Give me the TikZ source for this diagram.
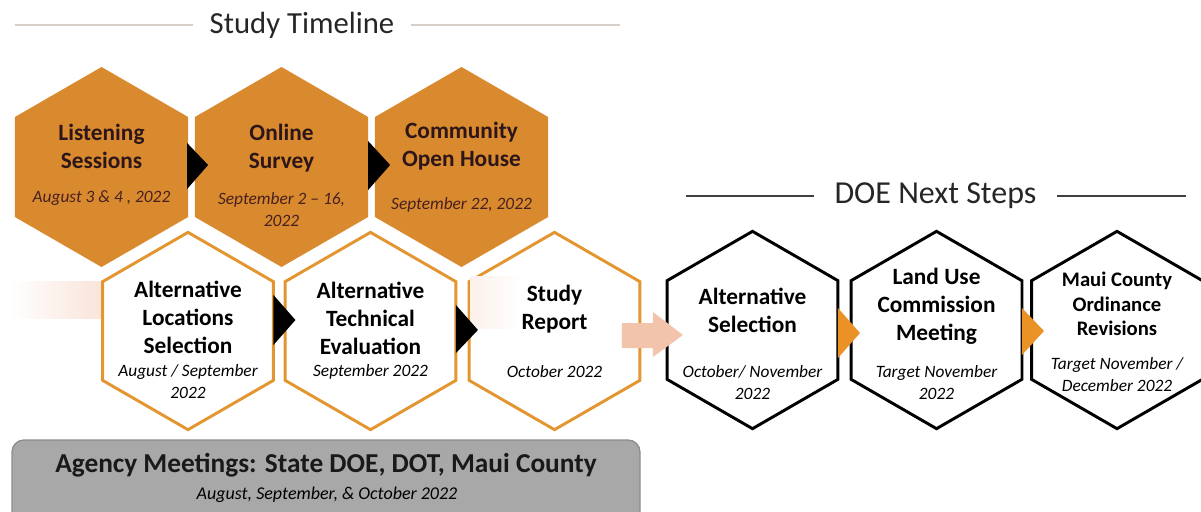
\documentclass[tikz,border=0pt]{standalone}
\usepackage{fontspec}
\setmainfont{Carlito}
\usetikzlibrary{shapes.geometric,calc}

\definecolor{hexorange}{RGB}{217,138,46}
\definecolor{lineorange}{RGB}{227,150,48}
\definecolor{tiporange}{RGB}{234,146,38}
\definecolor{peach}{RGB}{243,196,172}
\definecolor{bargray}{RGB}{168,168,168}
\definecolor{rulegray}{RGB}{216,208,200}
\definecolor{darkbrown}{RGB}{45,22,25}
\definecolor{datebrown}{RGB}{72,32,32}

\tikzset{
  hex/.style={regular polygon, regular polygon sides=6, shape border rotate=30,
    minimum size=150pt, inner sep=0pt, outer sep=0pt},
  hexfill/.style={hex, fill=hexorange},
  hexline/.style={hex, minimum size=148pt, draw=lineorange, line width=2.2pt, fill=white},
  hexblack/.style={hex, minimum size=148pt, draw=black, line width=2.2pt, fill=white},
  ttl/.style={align=center, font=\fontsize{17.5}{21}\selectfont\bfseries},
  dte/.style={align=center, font=\fontsize{13}{16.5}\selectfont\itshape},
  heading/.style={font=\fontsize{23}{26}\selectfont, inner xsep=12pt, text=black!85},
}

\begin{document}
\begin{tikzpicture}[x=0.75pt, y=-0.75pt]
\useasboundingbox (0,0) rectangle (1201,511);

% headings
\node[heading] (st) at (302,25) {Study Timeline};
\coordinate (st-l) at (15,25);
\coordinate (st-r) at (620,25);
\draw[rulegray, line width=1.5pt] (st-l) -- (st.west) (st.east) -- (st-r);

\node[heading, font=\fontsize{24}{27}\selectfont, inner xsep=15pt] (dns) at (935.5,196) {DOE Next Steps};
\coordinate (dns-l) at (686,196);
\coordinate (dns-r) at (1186,196);
\draw[black!75, line width=1.1pt] (dns-l) -- (dns.west) (dns.east) -- (dns-r);

% faded trail
\shade[left color=white, right color=peach!45] (10,281) rectangle (101,318);

% top row
\node[hexfill] (ls)  at (101.5,167) {};
\node[hexfill] (os)  at (281.5,167) {};
\node[hexfill] (coh) at (461.5,167) {};

% bottom row
\node[hexline] (als) at (188,331) {};
\node[hexline] (ate) at (370.5,331) {};
\node[hexline] (sr)  at (554.5,331) {};
\shade[left color=peach!25, right color=white] (470,276) rectangle (520,328);

% next steps
\node[hexblack] (asel) at (752.5,330) {};
\node[hexblack] (luc)  at (936.5,330) {};
\node[hexblack] (mco)  at (1117,330) {};

% step markers
\fill[black] ($(ls.east)+(-1,-24)$) -- ($(ls.east)+(20,-2)$) -- ($(ls.east)+(-1,22)$) -- cycle;
\fill[black] ($(os.east)+(0,-26)$) -- ($(os.east)+(22,-2)$) -- ($(os.east)+(0,23)$) -- cycle;
\fill[black] ($(als.east)+(0,-36)$) -- ($(als.east)+(22,-11)$) -- ($(als.east)+(0,14)$) -- cycle;
\fill[black] ($(ate.east)+(0,-26)$) -- ($(ate.east)+(22,-1)$) -- ($(ate.east)+(0,22)$) -- cycle;
\fill[tiporange] ($(asel.east)+(0,-22)$) -- ($(asel.east)+(22,3)$) -- ($(asel.east)+(0,28)$) -- cycle;
\fill[tiporange] ($(luc.east)+(0,-22)$) -- ($(luc.east)+(22,1)$) -- ($(luc.east)+(0,25)$) -- cycle;

% report to next steps
\fill[peach] ($(sr.east)+(-18,-8)$) -- ++(31,0) -- ++(0,-11) -- ($(sr.east)+(43,4)$)
  -- ($(sr.east)+(13,26)$) -- ++(0,-9) -- ($(sr.east)+(-18,17)$) -- cycle;

% labels
\node[ttl, text=darkbrown] (ls-t) at (101.5,146) {Listening\\Sessions};
\node[dte, text=datebrown] (ls-d) at (101.5,198) {August 3 \& 4 , 2022};
\node[ttl, text=darkbrown] (os-t) at (281.5,148) {Online\\Survey};
\node[dte, text=datebrown] (os-d) at (281.5,210) {September 2 – 16,\\2022};
\node[ttl, text=darkbrown] (coh-t) at (461.5,146) {Community\\Open House};
\node[dte, text=datebrown] (coh-d) at (461.5,205) {September 22, 2022};

\node[ttl] (als-t) at (188,317) {Alternative\\Locations\\Selection};
\node[dte] (als-d) at (188,382) {August / September\\2022};
\node[ttl] (ate-t) at (370.5,318) {Alternative\\Technical\\Evaluation};
\node[dte] (ate-d) at (370.5,372) {September 2022};
\node[ttl] (sr-t) at (554.5,309) {Study\\Report};
\node[dte] (sr-d) at (554.5,372) {October 2022};

\node[ttl] (asel-t) at (752.5,310) {Alternative\\Selection};
\node[dte] (asel-d) at (752.5,383) {October/ November\\2022};
\node[ttl] (luc-t) at (936.5,306) {Land Use\\Commission\\Meeting};
\node[dte] (luc-d) at (936.5,383) {Target November\\2022};
\node[ttl, font=\fontsize{15.5}{18.5}\selectfont\bfseries] (mco-t) at (1117,304) {Maui County\\Ordinance\\Revisions};
\node[dte, font=\fontsize{13}{17}\selectfont\itshape] (mco-d) at (1117,374.5) {Target November /\\December 2022};

% agency bar
\draw[draw=black!45, fill=bargray, rounded corners=9pt, line width=1pt] (12,440) rectangle (640,540);
\node[font=\fontsize{20.5}{23}\selectfont\bfseries, text=black!90] (ag-t) at (326,465) {Agency Meetings: State DOE, DOT, Maui County};
\node[dte, font=\fontsize{13.5}{16}\selectfont\itshape] (ag-d) at (327,495) {August, September, \& October 2022};

\end{tikzpicture}
\end{document}
